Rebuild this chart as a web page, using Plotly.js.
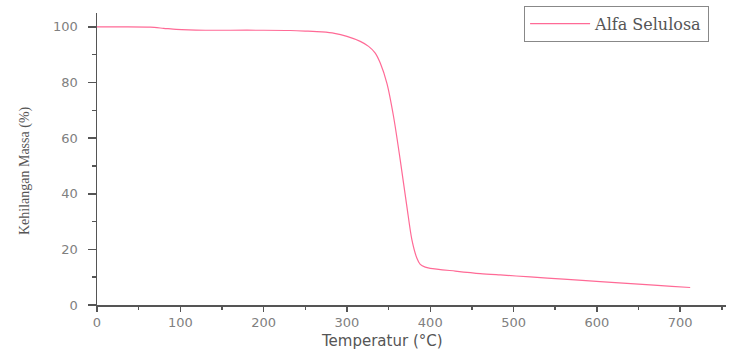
<!DOCTYPE html>
<html>
<head>
<meta charset="utf-8">
<script src="https://cdn.plot.ly/plotly-3.0.1.min.js"></script>
<style>html,body{margin:0;padding:0;background:#fff;}#chart{width:730px;height:353px;}</style>
</head>
<body>
<div id="chart"></div>
<script>
const seriesName = "Alfa Selulosa";
const xTitle = "Temperatur (°C)";
const yTitle = "Kehilangan Massa (%)";
const temperature = [0, 30, 64, 80, 95, 110, 130, 160, 200, 232, 250, 270, 285, 300, 316, 326, 334, 340, 348, 356, 364, 372, 378, 384, 388, 394, 400, 430, 460, 484, 520, 560, 604, 650, 690, 712];
const massLoss = [100, 100, 99.9, 99.5, 99.1, 98.9, 98.8, 98.8, 98.8, 98.7, 98.5, 98.2, 97.7, 96.6, 94.8, 93.0, 90.6, 87.0, 79.7, 67.7, 52.1, 35.3, 23.4, 16.8, 14.6, 13.6, 13.2, 12.2, 11.3, 10.8, 10.1, 9.3, 8.4, 7.5, 6.7, 6.3];
const xTicks = [0, 100, 200, 300, 400, 500, 600, 700];
const yTicks = [0, 20, 40, 60, 80, 100];

const tickFont = {family: 'DejaVu Sans, Arial, sans-serif', size: 13, color: '#808080'};

const trace = {
  x: temperature, y: massLoss, name: seriesName, type: 'scatter', mode: 'lines',
  line: {color: '#ff6a96', width: 1.2, shape: 'spline', smoothing: 0.8},
  showlegend: true
};

const layout = {
  width: 730, height: 353,
  margin: {l: 97, r: 4, t: 13, b: 48},
  paper_bgcolor: '#fff', plot_bgcolor: '#fff',
  xaxis: {
    range: [0, 755], tickvals: xTicks, ticktext: xTicks.map(String),
    showline: true, linecolor: '#555', linewidth: 1.5,
    ticks: 'outside', ticklen: 5, tickwidth: 1.5, tickcolor: '#555',
    showgrid: false, zeroline: false, tickfont: tickFont,
    minor: {dtick: 50, tick0: 0, ticks: 'outside', ticklen: 3, tickwidth: 1.5, tickcolor: '#555', showgrid: false}
  },
  yaxis: {
    range: [0, 105], tickvals: yTicks, ticktext: yTicks.map(String),
    showline: true, linecolor: '#555', linewidth: 1.5,
    ticks: 'outside', ticklen: 8, tickwidth: 1.5, tickcolor: '#555',
    showgrid: false, zeroline: false, tickfont: tickFont, ticklabelstandoff: 7,
    minor: {dtick: 10, tick0: 0, ticks: 'outside', ticklen: 4, tickwidth: 1.5, tickcolor: '#555', showgrid: false}
  },
  annotations: [
    {text: xTitle, xref: 'paper', yref: 'paper', x: 0.453, y: -0.123, xanchor: 'center', yanchor: 'middle',
     showarrow: false, font: {family: 'DejaVu Sans, Arial, sans-serif', size: 15, color: '#555'}},
    {text: yTitle, xref: 'paper', yref: 'paper', x: -0.1145, y: 0.462, xanchor: 'center', yanchor: 'middle',
     textangle: -90, showarrow: false, font: {family: 'Liberation Serif, Times New Roman, serif', size: 14, color: '#555'}}
  ],
  legend: {
    x: 0.679, y: 1.025, xanchor: 'left', yanchor: 'top',
    bgcolor: '#fff', bordercolor: '#888', borderwidth: 1,
    font: {family: 'DejaVu Serif, Liberation Serif, serif', size: 16, color: '#555'},
    itemwidth: 60
  },
  showlegend: true
};

Plotly.newPlot('chart', [trace], layout, {displayModeBar: false, staticPlot: true});
</script>
</body>
</html>
